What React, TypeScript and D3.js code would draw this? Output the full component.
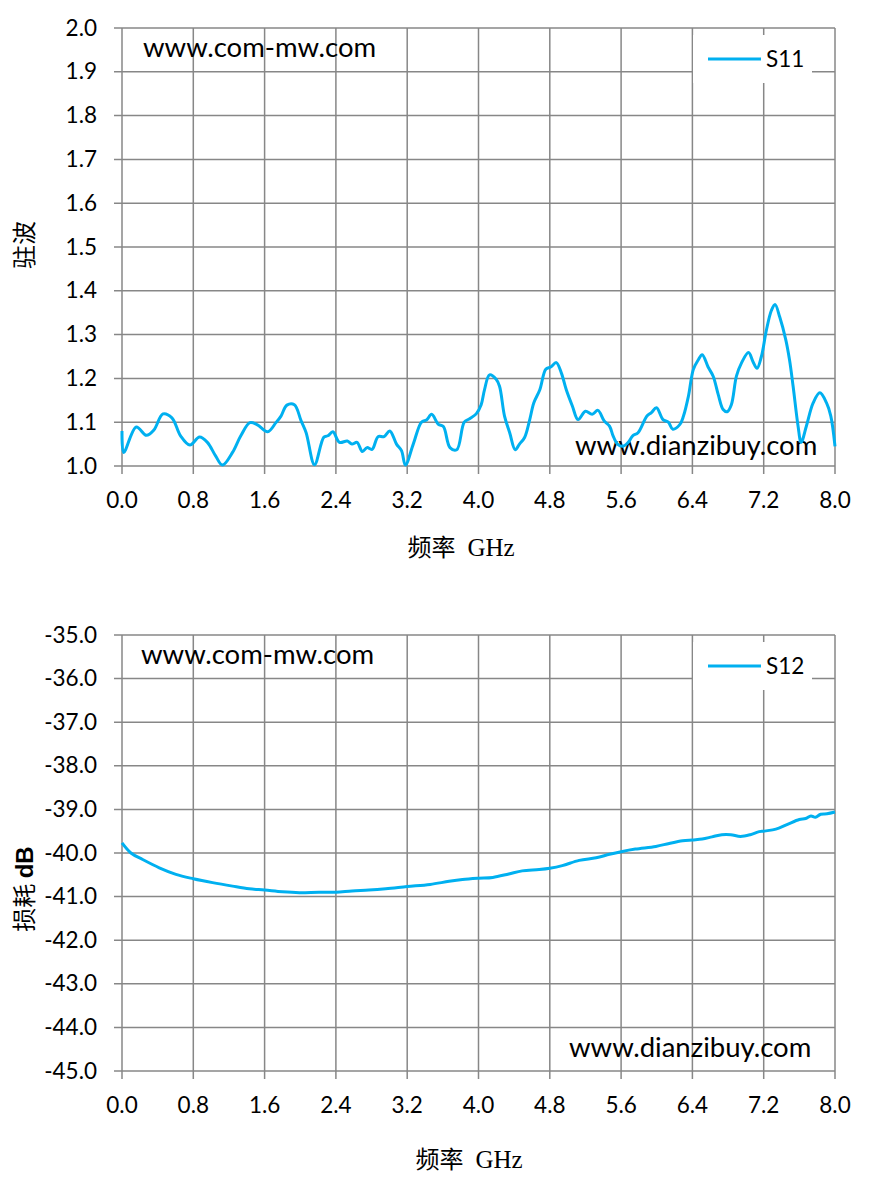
import React from "react";
import * as d3 from "d3";

const xTicks = [0, 0.8, 1.6, 2.4, 3.2, 4.0, 4.8, 5.6, 6.4, 7.2, 8.0];
const swrTicks = [1.0, 1.1, 1.2, 1.3, 1.4, 1.5, 1.6, 1.7, 1.8, 1.9, 2.0];
const lossTicks = [-45, -44, -43, -42, -41, -40, -39, -38, -37, -36, -35];

const s11Freq = [
  0, 0.02, 0.16, 0.274, 0.357, 0.46, 0.56, 0.657, 0.762, 0.87, 0.958, 1.05, 1.127, 1.24, 1.333, 1.435,
  1.52, 1.634, 1.727, 1.784, 1.85, 1.934, 2.01, 2.066, 2.16, 2.265, 2.31, 2.366, 2.44, 2.528, 2.58,
  2.637, 2.697, 2.749, 2.806, 2.873, 2.94, 3.005, 3.08, 3.136, 3.18, 3.268, 3.36, 3.417, 3.474, 3.55,
  3.606, 3.68, 3.756, 3.84, 3.9, 3.974, 4.03, 4.067, 4.124, 4.198, 4.236, 4.292, 4.35, 4.412, 4.46,
  4.517, 4.575, 4.62, 4.688, 4.755, 4.81, 4.873, 4.93, 4.985, 5.053, 5.117, 5.2, 5.275, 5.34, 5.41,
  5.47, 5.51, 5.56, 5.62, 5.68, 5.73, 5.79, 5.89, 5.94, 5.997, 6.07, 6.13, 6.18, 6.26, 6.3, 6.355,
  6.41, 6.465, 6.51, 6.576, 6.633, 6.69, 6.745, 6.79, 6.837, 6.894, 6.95, 7.03, 7.08, 7.125, 7.174,
  7.23, 7.286, 7.327, 7.38, 7.448, 7.49, 7.53, 7.585, 7.62, 7.68, 7.755, 7.83, 7.905, 7.953, 8.0,
];
const s11Values = [
  1.08, 1.031, 1.089, 1.07, 1.082, 1.119, 1.11, 1.069, 1.048, 1.066, 1.054, 1.023, 1.002, 1.031, 1.069, 1.099,
  1.094, 1.078, 1.099, 1.114, 1.139, 1.14, 1.103, 1.076, 1.003, 1.066, 1.069, 1.078, 1.054, 1.057, 1.05,
  1.054, 1.033, 1.042, 1.038, 1.067, 1.067, 1.08, 1.05, 1.035, 1.002, 1.05, 1.1, 1.105, 1.118, 1.095,
  1.09, 1.042, 1.037, 1.1, 1.108, 1.119, 1.14, 1.174, 1.208, 1.198, 1.182, 1.114, 1.076, 1.037, 1.05,
  1.065, 1.106, 1.144, 1.174, 1.221, 1.226, 1.236, 1.212, 1.174, 1.137, 1.106, 1.125, 1.118, 1.127, 1.103,
  1.091, 1.069, 1.05, 1.045, 1.054, 1.069, 1.076, 1.114, 1.122, 1.133, 1.106, 1.1, 1.084, 1.095, 1.114, 1.159,
  1.22, 1.242, 1.254, 1.226, 1.205, 1.163, 1.129, 1.124, 1.14, 1.205, 1.235, 1.259, 1.238, 1.223, 1.25,
  1.31, 1.355, 1.369, 1.34, 1.288, 1.242, 1.182, 1.092, 1.054, 1.092, 1.144, 1.167, 1.144, 1.114, 1.045,
];

const s12Freq = [
  0, 0.1, 0.232, 0.418, 0.605, 0.8, 1.016, 1.24, 1.427, 1.6, 1.8, 1.99, 2.21, 2.4, 2.58, 2.77, 2.96, 3.2,
  3.457, 3.67, 3.82, 4.0, 4.16, 4.34, 4.49, 4.68, 4.8, 4.94, 5.13, 5.32, 5.47, 5.6, 5.76, 5.99, 6.14,
  6.29, 6.4, 6.51, 6.62, 6.73, 6.83, 6.94, 7.05, 7.15, 7.2, 7.3, 7.37, 7.48, 7.6, 7.67, 7.73, 7.78,
  7.84, 7.91, 8.0,
];
const s12Values = [
  -39.77, -40.0, -40.15, -40.34, -40.49, -40.59, -40.68, -40.76, -40.82, -40.85, -40.89, -40.91, -40.9, -40.9,
  -40.87, -40.85, -40.82, -40.77, -40.72, -40.65, -40.61, -40.58, -40.56, -40.48, -40.41, -40.38, -40.35,
  -40.29, -40.17, -40.11, -40.03, -39.97, -39.91, -39.85, -39.78, -39.72, -39.7, -39.68, -39.63, -39.58,
  -39.58, -39.62, -39.58, -39.51, -39.5, -39.47, -39.43, -39.33, -39.23, -39.21, -39.15, -39.18, -39.11,
  -39.1, -39.06,
];

const GRID = "#878787";
const LINE = "#00B0F0";
const FONT = "Lato, 'Liberation Sans', sans-serif";
const CJK = "'Noto Sans CJK SC', sans-serif";
const TICK_SIZE = 22.5;
const WM_SIZE = 27.5;

type ChartProps = {
  top: number;
  bottom: number;
  yDomain: [number, number];
  yTicks: number[];
  freq: number[];
  values: number[];
  seriesName: string;
  yLabel: React.ReactNode;
  yLabelCenter: number;
  wm1: { x: number; y: number };
  wm2: { x: number; y: number };
  xTitleY: number;
  xTitleX: number;
};

function Chart(p: ChartProps) {
  const left = 122;
  const right = 835;
  const x = d3.scaleLinear().domain([0, 8]).range([left, right]);
  const y = d3.scaleLinear().domain(p.yDomain).range([p.bottom, p.top]);
  const pts = p.freq.map((f, i) => [f, p.values[i]] as [number, number]);
  const line = d3
    .line<[number, number]>()
    .x((d) => x(d[0]))
    .y((d) => y(d[1]))
    .curve(d3.curveCatmullRom.alpha(0.5));
  const f1 = d3.format(".1f");
  const fmt = (v: number) => f1(v).replace("\u2212", "-");
  return (
    <g>
      {p.yTicks.map((t) => (
        <line key={"h" + t} x1={left - 8} x2={right} y1={y(t)} y2={y(t)} stroke={GRID} strokeWidth={1.5} />
      ))}
      {xTicks.map((t) => (
        <line key={"v" + t} x1={x(t)} x2={x(t)} y1={p.top} y2={p.bottom + 8} stroke={GRID} strokeWidth={1.5} />
      ))}
      {p.yTicks.map((t) => (
        <text key={"yl" + t} x={97} y={y(t) + 7.5} textAnchor="end" fontFamily={FONT} fontSize={TICK_SIZE} fill="#000">
          {fmt(t)}
        </text>
      ))}
      {xTicks.map((t) => (
        <text key={"xl" + t} x={x(t)} y={p.bottom + 42} textAnchor="middle" fontFamily={FONT} fontSize={TICK_SIZE} fill="#000">
          {fmt(t)}
        </text>
      ))}
      <text x={p.wm1.x} y={p.wm1.y} fontFamily={FONT} fontSize={WM_SIZE} fill="#000">www.com-mw.com</text>
      <text x={p.wm2.x} y={p.wm2.y} fontFamily={FONT} fontSize={WM_SIZE} fill="#000">www.dianzibuy.com</text>
      <path d={line(pts) || ""} fill="none" stroke={LINE} strokeWidth={3} strokeLinejoin="round" />
      <rect x={693} y={p.top + 7} width={119} height={48} fill="#fff" />
      <line x1={708} x2={761} y1={p.top + 31} y2={p.top + 31} stroke={LINE} strokeWidth={3} />
      <text x={766} y={p.top + 39} fontFamily={FONT} fontSize={TICK_SIZE} fill="#000">{p.seriesName}</text>
      <g transform={`translate(33, ${p.yLabelCenter}) rotate(-90)`}>{p.yLabel}</g>
      <text x={p.xTitleX} y={p.xTitleY} textAnchor="middle" fontSize={24} fill="#000">
        <tspan fontFamily={CJK}>频率</tspan>
        <tspan dx={12} fontFamily="'Liberation Serif', serif" fontSize={25}>GHz</tspan>
      </text>
    </g>
  );
}

export default function App() {
  return (
    <svg width={870} height={1190} style={{ position: "absolute", left: 0, top: 0, background: "#fff" }}>
      <rect width={870} height={1190} fill="#fff" />
      <Chart
        top={28}
        bottom={466}
        yDomain={[1, 2]}
        yTicks={swrTicks}
        freq={s11Freq}
        values={s11Values}
        seriesName="S11"
        yLabel={
          <text textAnchor="middle" fontFamily={CJK} fontSize={24} fill="#000">驻波</text>
        }
        yLabelCenter={245}
        wm1={{ x: 143, y: 57 }}
        wm2={{ x: 575, y: 455 }}
        xTitleX={461}
        xTitleY={556}
      />
      <Chart
        top={635}
        bottom={1071}
        yDomain={[-45, -35]}
        yTicks={lossTicks}
        freq={s12Freq}
        values={s12Values}
        seriesName="S12"
        yLabel={
          <text textAnchor="middle" fontSize={24} fill="#000">
            <tspan fontFamily={CJK}>损耗 </tspan>
            <tspan fontFamily="'Liberation Sans', sans-serif" fontWeight="bold">dB</tspan>
          </text>
        }
        yLabelCenter={889}
        wm1={{ x: 141, y: 664 }}
        wm2={{ x: 569, y: 1057 }}
        xTitleX={469}
        xTitleY={1168}
      />
    </svg>
  );
}
